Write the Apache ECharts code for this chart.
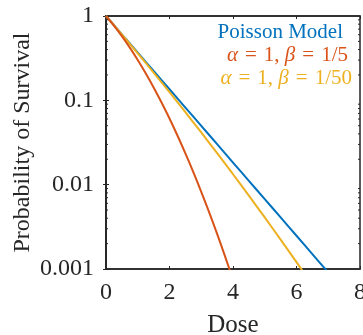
<!DOCTYPE html>
<html>
<head>
<meta charset="utf-8">
<script src="https://cdn.jsdelivr.net/npm/echarts@6/dist/echarts.min.js"></script>
<style>
  html, body { margin: 0; padding: 0; background: #fff; }
  #chart { width: 363px; height: 335px; }
</style>
</head>
<body>
<div id="chart"></div>
<script>
// Survival fraction vs. dose
const poissonDose = [0, 0.5, 1, 1.5, 2, 2.5, 3, 3.5, 4, 4.5, 5, 5.5, 6, 6.5, 7];
const poissonSurv = [1, 0.6065, 0.3679, 0.2231, 0.1353, 0.0821, 0.0498, 0.0302, 0.0183, 0.0111, 0.00674, 0.00409, 0.00248, 0.00150, 0.000912];

const lq5Dose = [0, 0.25, 0.5, 0.75, 1, 1.25, 1.5, 1.75, 2, 2.25, 2.5, 2.75, 3, 3.25, 3.5, 3.75, 4];
const lq5Surv = [1, 0.7691, 0.5769, 0.4221, 0.3012, 0.2096, 0.1423, 0.09417, 0.0608, 0.0383, 0.02352, 0.01409, 0.00823, 0.004688, 0.002606, 0.00141, 0.000747];

const lq50Dose = [0, 0.5, 1, 1.5, 2, 2.5, 3, 3.5, 4, 4.5, 5, 5.5, 6, 6.5];
const lq50Surv = [1, 0.6035, 0.3606, 0.2133, 0.1249, 0.07244, 0.04159, 0.02364, 0.0133, 0.007405, 0.004087, 0.00223, 0.001205, 0.000645];

const xTicks = [0, 2, 4, 6, 8];
const yTickLabels = { 1: '1', 0.1: '0.1', 0.01: '0.01', 0.001: '0.001' };

const colors = { poisson: '#0072BD', lq5: '#D95319', lq50: '#EDB120' };
const axisColor = '#262626';
const serif = '"Liberation Serif", "Times New Roman", serif';

const pairs = (xs, ys) => xs.map((x, i) => [x, ys[i]]);

const chart = echarts.init(document.getElementById('chart'));

const grid = { left: 106, right: 3, top: 16, bottom: 66 };

const lineSeries = (name, xs, ys, color) => ({
  name, type: 'line', data: pairs(xs, ys), showSymbol: false, symbol: 'none',
  clip: true, smooth: 0.3,
  lineStyle: { color, width: 2 }, z: 3
});

chart.setOption({
  animation: false,
  grid: Object.assign({
    show: true, borderColor: axisColor, borderWidth: 1.5, backgroundColor: '#fff',
    containLabel: false, outerBoundsMode: 'none'
  }, grid),
  xAxis: [{
    type: 'value', min: 0, max: 8, interval: 2, position: 'bottom',
    name: 'Dose', nameLocation: 'middle', nameGap: 44,
    nameTextStyle: { fontFamily: serif, fontSize: 25, color: axisColor },
    axisLine: { show: true, lineStyle: { color: axisColor, width: 1.5 } },
    axisTick: { show: true, inside: true, length: 3, lineStyle: { color: axisColor } },
    axisLabel: { fontFamily: serif, fontSize: 24, color: axisColor, margin: 12,
      formatter: v => xTicks.includes(v) ? String(v) : '' },
    splitLine: { show: false }
  }, {
    type: 'value', min: 0, max: 8, interval: 2, position: 'top',
    axisLine: { show: true, lineStyle: { color: axisColor, width: 1.5 } },
    axisTick: { show: true, inside: true, length: 3, lineStyle: { color: axisColor } },
    axisLabel: { show: false }, splitLine: { show: false }
  }],
  yAxis: [{
    type: 'log', logBase: 10, min: 0.001, max: 1, position: 'left',
    name: 'Probability of Survival', nameLocation: 'middle', nameGap: 71,
    nameMoveOverlap: false,
    nameTextStyle: { fontFamily: serif, fontSize: 24, color: axisColor },
    axisLine: { show: true, lineStyle: { color: axisColor, width: 1.5 } },
    axisTick: { show: true, inside: true, length: 3, lineStyle: { color: axisColor } },
    axisLabel: { fontFamily: serif, fontSize: 24, color: axisColor, margin: 12,
      formatter: v => yTickLabels[v] !== undefined ? yTickLabels[v] : String(v) },
    splitLine: { show: false }
  }, {
    type: 'log', logBase: 10, min: 0.001, max: 1, position: 'right',
    axisLine: { show: true, lineStyle: { color: axisColor, width: 1.5 } },
    axisTick: { show: true, inside: true, length: 3, lineStyle: { color: axisColor } },
    axisLabel: { show: false }, splitLine: { show: false }
  }],
  series: [
    lineSeries('Poisson Model', poissonDose, poissonSurv, colors.poisson),
    lineSeries('α = 1, β = 1/50', lq50Dose, lq50Surv, colors.lq50),
    lineSeries('α = 1, β = 1/5', lq5Dose, lq5Surv, colors.lq5)
  ]
});

// Minor ticks at 2..9 × each decade on both vertical axes, placed through the log scale
const minorTicks = [];
[0.001, 0.01, 0.1].forEach(dec => {
  for (let k = 2; k <= 9; k++) {
    const v = dec * k;
    const yl = chart.convertToPixel({ yAxisIndex: 0 }, v);
    const xl = chart.convertToPixel({ xAxisIndex: 0 }, 0);
    const xr = chart.convertToPixel({ xAxisIndex: 0 }, 8);
    minorTicks.push({ type: 'line', shape: { x1: xl, y1: yl, x2: xl + 2, y2: yl }, style: { stroke: axisColor, lineWidth: 1 }, silent: true, z: 5 });
    minorTicks.push({ type: 'line', shape: { x1: xr, y1: yl, x2: xr - 2, y2: yl }, style: { stroke: axisColor, lineWidth: 1 }, silent: true, z: 5 });
  }
});

// Curve labels in the upper right corner (three-per-em spaces around "=")
const sp = '\u2004';
const legendLines = [
  { rich: '{n|Poisson Model}', color: colors.poisson, x: 343, y: 32 },
  { rich: `{i|α}{n|${sp}=${sp}1, }{i|β}{n|${sp}=${sp}1/5}`, color: colors.lq5, x: 348, y: 55 },
  { rich: `{i|α}{n|${sp}=${sp}1, }{i|β}{n|${sp}=${sp}1/50}`, color: colors.lq50, x: 352, y: 78 }
];
const labels = legendLines.map(l => ({
  type: 'text', z: 10, silent: true,
  style: {
    x: l.x, y: l.y, text: l.rich, fill: l.color,
    textAlign: 'right', textVerticalAlign: 'middle',
    rich: {
      n: { fontFamily: serif, fontSize: 21, fill: l.color, color: l.color },
      i: { fontFamily: serif, fontSize: 21, fontStyle: 'italic', fill: l.color, color: l.color }
    }
  }
}));

chart.setOption({ graphic: minorTicks.concat(labels) });
</script>
</body>
</html>
